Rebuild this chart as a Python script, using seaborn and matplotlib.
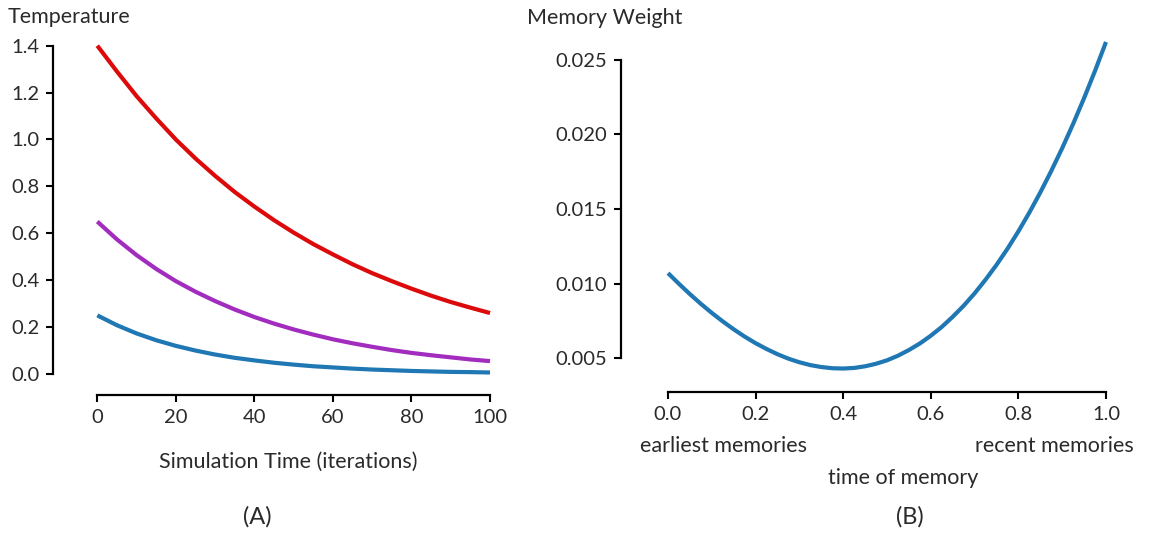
import numpy as np
import pandas as pd
import matplotlib
matplotlib.use('Agg')
import matplotlib.pyplot as plt
import seaborn as sns

# ---------------------------------------------------------------------------
# Data
# ---------------------------------------------------------------------------
iterations = [0, 5, 10, 15, 20, 25, 30, 35, 40, 45, 50,
              55, 60, 65, 70, 75, 80, 85, 90, 95, 100]
temp_high = [1.40, 1.29, 1.185, 1.09, 1.00, 0.919, 0.845, 0.776, 0.714, 0.656, 0.603,
             0.554, 0.51, 0.468, 0.43, 0.396, 0.364, 0.334, 0.307, 0.283, 0.26]
temp_mid = [0.65, 0.574, 0.507, 0.448, 0.396, 0.351, 0.311, 0.275, 0.243, 0.215, 0.19,
            0.168, 0.148, 0.131, 0.116, 0.102, 0.09, 0.08, 0.071, 0.062, 0.055]
temp_low = [0.25, 0.208, 0.173, 0.144, 0.12, 0.10, 0.083, 0.069, 0.058, 0.048, 0.040,
            0.033, 0.028, 0.023, 0.019, 0.016, 0.013, 0.011, 0.009, 0.008, 0.0064]
schedule_names = ['high', 'mid', 'low']

memory_time = [0.0, 0.025, 0.05, 0.075, 0.1, 0.125, 0.15, 0.175, 0.2, 0.225,
               0.25, 0.275, 0.3, 0.325, 0.35, 0.375, 0.4, 0.425, 0.45, 0.475,
               0.5, 0.525, 0.55, 0.575, 0.6, 0.625, 0.65, 0.675, 0.7, 0.725,
               0.75, 0.775, 0.8, 0.825, 0.85, 0.875, 0.9, 0.925, 0.95, 0.975, 1.0]
memory_weight = [0.0107, 0.00998, 0.00929, 0.00864, 0.00803, 0.00746, 0.00693,
                 0.00644, 0.0060, 0.00561, 0.00526, 0.00496, 0.00472, 0.00453,
                 0.00440, 0.00432, 0.00430, 0.00434, 0.00445, 0.00462, 0.00485,
                 0.00516, 0.00554, 0.00598, 0.00650, 0.00709, 0.00777, 0.00851,
                 0.00934, 0.01026, 0.01125, 0.01233, 0.01350, 0.01476, 0.01611,
                 0.01755, 0.01908, 0.02071, 0.02244, 0.02427, 0.0262]

temp_ticks_x = [0, 20, 40, 60, 80, 100]
temp_ticks_y = [0.0, 0.2, 0.4, 0.6, 0.8, 1.0, 1.2, 1.4]
mem_ticks_x = [0.0, 0.2, 0.4, 0.6, 0.8, 1.0]
mem_ticks_y = [0.005, 0.010, 0.015, 0.020, 0.025]

# ---------------------------------------------------------------------------
# Style
# ---------------------------------------------------------------------------
sns.set_style('ticks')
plt.rcParams['font.family'] = ['Lato', 'DejaVu Sans']
plt.rcParams['text.color'] = '#2a2a2a'
plt.rcParams['axes.labelcolor'] = '#2a2a2a'
plt.rcParams['xtick.color'] = 'black'
plt.rcParams['ytick.color'] = 'black'
plt.rcParams['xtick.labelcolor'] = '#2a2a2a'
plt.rcParams['ytick.labelcolor'] = '#2a2a2a'

TICK_FS = 14.5
LABEL_FS = 15.5
LW = 3.0
W, H = 1150, 534

fig = plt.figure(figsize=(W / 100, H / 100), dpi=100)


def px_axes(left, top, right, bottom):
    return fig.add_axes([left / W, 1 - bottom / H, (right - left) / W, (bottom - top) / H])


def style_axes(ax, x_off, y_off):
    sns.despine(ax=ax)
    ax.spines['left'].set_position(('outward', x_off * 0.72))
    ax.spines['bottom'].set_position(('outward', y_off * 0.72))
    for s in ('left', 'bottom'):
        ax.spines[s].set_linewidth(1.6)
        ax.spines[s].set_color('black')
    ax.tick_params(axis='both', labelsize=TICK_FS, width=1.5, length=5, pad=5)


# ---------------------------------------------------------------------------
# (A) temperature schedules
# ---------------------------------------------------------------------------
temp_df = pd.DataFrame({
    'iteration': iterations * 3,
    'temperature': temp_high + temp_mid + temp_low,
    'schedule': [n for n in schedule_names for _ in iterations],
})

ax1 = px_axes(97.3, 45.7, 490, 374)
sns.lineplot(data=temp_df, x='iteration', y='temperature', hue='schedule',
             palette={'high': '#dc0a0a', 'mid': '#a22cbe', 'low': '#1f77b4'},
             linewidth=LW, legend=False, ax=ax1)
for line in ax1.lines:
    line.set_clip_on(False)
    line.set_solid_capstyle('butt')
    line.set_solid_joinstyle('round')
ax1.set_xlim(0, 100)
ax1.set_ylim(0, 1.4)
ax1.set_xticks(temp_ticks_x)
ax1.set_yticks(temp_ticks_y)
ax1.set_yticklabels([f'{v:.1f}' for v in temp_ticks_y])
style_axes(ax1, 44, 21)

ax1.set_xlabel('Simulation Time (iterations)', fontsize=LABEL_FS)
ax1.xaxis.set_label_coords((288 - 97.3) / 392.7, (374 - 452) / 328.3)
ax1.set_ylabel('Temperature', fontsize=LABEL_FS, rotation=0, ha='left', va='center')
ax1.yaxis.set_label_coords((8 - 97.3) / 392.7, (374 - 17) / 328.3)

# ---------------------------------------------------------------------------
# (B) memory weighting
# ---------------------------------------------------------------------------
mem_df = pd.DataFrame({'time': memory_time, 'weight': memory_weight})

ax2 = px_axes(668, 37.5, 1106, 373)
sns.lineplot(data=mem_df, x='time', y='weight', color='#1f77b4',
             linewidth=LW, ax=ax2)
for line in ax2.lines:
    line.set_clip_on(False)
    line.set_solid_capstyle('butt')
    line.set_solid_joinstyle('round')
ax2.set_xlim(0, 1)
ax2.set_ylim(0.004, 0.0265)
ax2.set_xticks(mem_ticks_x)
ax2.set_xticklabels([f'{v:.1f}' for v in mem_ticks_x])
ax2.set_yticks(mem_ticks_y)
ax2.set_yticklabels([f'{v:.3f}' for v in mem_ticks_y])
style_axes(ax2, 47, 19)
ax2.spines['left'].set_bounds(0.005, 0.025)

ax2.set_xlabel('time of memory', fontsize=LABEL_FS)
ax2.xaxis.set_label_coords((903 - 668) / 438, (373 - 468) / 335.5)
ax2.set_ylabel('Memory Weight', fontsize=LABEL_FS, rotation=0, ha='left', va='center')
ax2.yaxis.set_label_coords((527 - 668) / 438, (373 - 18) / 335.5)
ax2.text((723 - 668) / 438, (373 - 446) / 335.5, 'earliest memories',
         transform=ax2.transAxes, ha='center', va='center', fontsize=LABEL_FS)
ax2.text((1054 - 668) / 438, (373 - 446) / 335.5, 'recent memories',
         transform=ax2.transAxes, ha='center', va='center', fontsize=LABEL_FS)

fig.text(257 / W, 1 - 517 / H, '(A)', ha='center', va='center', fontsize=17)
fig.text(910 / W, 1 - 517 / H, '(B)', ha='center', va='center', fontsize=17)

fig.savefig('out.png', dpi=100)
